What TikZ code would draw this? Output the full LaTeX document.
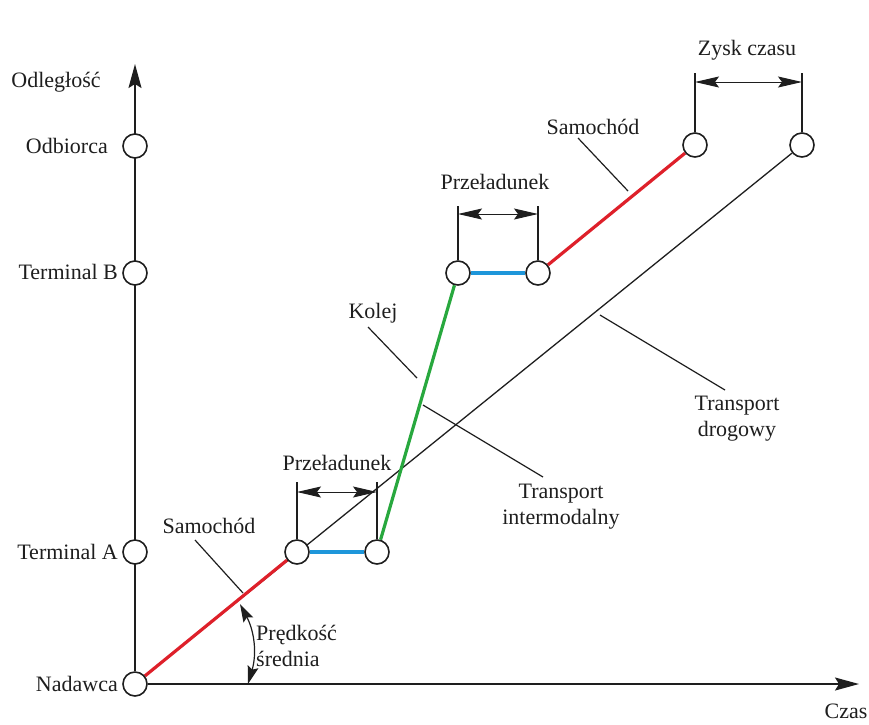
\documentclass[tikz,border=0pt]{standalone}
\usepackage{fontspec}
\setmainfont{Liberation Serif}
\usetikzlibrary{arrows.meta,backgrounds}
\definecolor{carred}{RGB}{222,32,42}
\definecolor{railgreen}{RGB}{40,168,62}
\definecolor{handblue}{RGB}{30,150,218}
\definecolor{ink}{RGB}{30,30,30}
\begin{document}
\begin{tikzpicture}[x=1pt,y=-1pt,
  stop/.style={circle,draw=ink,line width=1.6pt,fill=white,minimum size=24pt,inner sep=0pt},
  lbl/.style={font=\fontsize{22}{26}\selectfont,text=ink,inner sep=1pt,align=center},
  axis/.style={line width=1.6pt,draw=ink,-{Stealth[length=24pt,width=13pt,inset=4pt]}},
  leader/.style={line width=1.2pt,draw=ink},
  leg/.style={line width=3.2pt},
  tipA/.tip={Stealth[length=24pt,width=11pt,inset=4pt]},
  tipB/.tip={Stealth[length=18pt,width=11pt,inset=3pt]},
  span/.style={line width=1pt,draw=ink,tipA-tipA},
  wall/.style={line width=1.2pt,draw=ink},
]
\useasboundingbox (0,0) rectangle (869,724);

% stops on the distance axis
\node[stop] (o)  at (135,684) {};
\node[stop] (ta) at (135,552) {};
\node[stop] (tb) at (135,273) {};
\node[stop] (od) at (135,146) {};

% stops of the intermodal chain and of the road run
\node[stop] (p1) at (297,552) {};
\node[stop] (p2) at (377,552) {};
\node[stop] (p3) at (458,273) {};
\node[stop] (p4) at (538,273) {};
\node[stop] (e1) at (695,145) {};
\node[stop] (e2) at (802,145) {};

\coordinate (ytip) at (135,64);
\coordinate (xtip) at (859,684);

\begin{pgfonlayer}{background}
  \draw[axis] (o) -- (ytip);
  \draw[axis] (o) -- (xtip);
  % road transport
  \draw[line width=1.3pt,draw=ink] (o) -- (e2);
  % intermodal legs
  \draw[leg,carred] (o) -- (p1);
  \draw[leg,handblue] (p1) -- (p2);
  \draw[leg,railgreen] (p2) -- (p3);
  \draw[leg,handblue] (p3) -- (p4);
  \draw[leg,carred] (p4) -- (e1);
\end{pgfonlayer}

% axis labels
\node[lbl] (lodl) at (56,82) {Odległość};
\node[lbl,anchor=east] (lodb) at (109,146) {Odbiorca};
\node[lbl,anchor=east] (ltb) at (119,272) {Terminal B};
\node[lbl,anchor=east] (lta) at (119,552) {Terminal A};
\node[lbl,anchor=east] (lnad) at (119,684) {Nadawca};
\node[lbl] (lczas) at (846,711) {Czas};

% transshipment at terminal A
\coordinate (w1l) at (297,482);
\coordinate (w1r) at (377,482);
\coordinate (s1l) at (297,492);
\coordinate (s1r) at (377,492);
\draw[wall] (w1l) -- (p1);
\draw[wall] (w1r) -- (p2);
\draw[span] (s1l) -- (s1r);
\node[lbl] (lprz1) at (337,463) {Przeładunek};

% transshipment at terminal B
\coordinate (w2l) at (458,206);
\coordinate (w2r) at (538,206);
\coordinate (s2l) at (458,214);
\coordinate (s2r) at (538,214);
\draw[wall] (w2l) -- (p3);
\draw[wall] (w2r) -- (p4);
\draw[span] (s2l) -- (s2r);
\node[lbl] (lprz2) at (495,182) {Przeładunek};

% time gain
\coordinate (w3l) at (695,73);
\coordinate (w3r) at (802,73);
\coordinate (s3l) at (695,82);
\coordinate (s3r) at (802,82);
\draw[wall] (w3l) -- (e1);
\draw[wall] (w3r) -- (e2);
\draw[span] (s3l) -- (s3r);
\node[lbl] (lzysk) at (747,50) {Zysk czasu};

% leader lines with their labels
\node[lbl] (lsam1) at (209,526) {Samochód};
\coordinate (q1a) at (195,540);
\coordinate (q1b) at (243,593);
\draw[leader] (q1a) -- (q1b);

\node[lbl] (lsam2) at (593,127) {Samochód};
\coordinate (q2a) at (578,138);
\coordinate (q2b) at (628,191);
\draw[leader] (q2a) -- (q2b);

\node[lbl] (lkol) at (373,313) {Kolej};
\coordinate (q3a) at (368,327);
\coordinate (q3b) at (417,378);
\draw[leader] (q3a) -- (q3b);

\node[lbl] (lint) at (561,507) {Transport\\intermodalny};
\coordinate (q4a) at (423,405);
\coordinate (q4b) at (543,477);
\draw[leader] (q4a) -- (q4b);

\node[lbl] (ldrog) at (737,419) {Transport\\drogowy};
\coordinate (q5a) at (600,315);
\coordinate (q5b) at (725,390);
\draw[leader] (q5a) -- (q5b);

% mean speed angle
\coordinate (v1) at (240,604);
\coordinate (v2) at (248,684);
\draw[line width=1.2pt,draw=ink,tipB-tipB] (v1) to[bend left=22] (v2);
\node[lbl,anchor=west,align=left] (lpred) at (255,646) {Prędkość\\średnia};
\end{tikzpicture}
\end{document}
